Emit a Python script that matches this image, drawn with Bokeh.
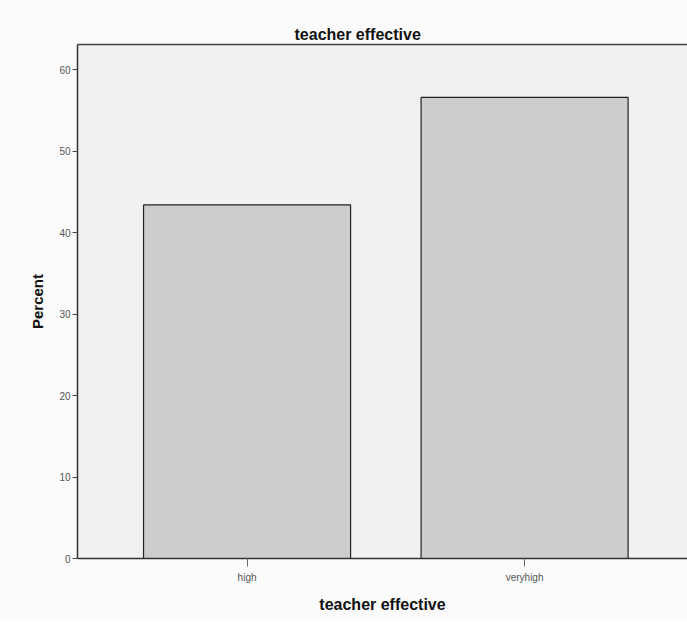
from bokeh.plotting import figure
from bokeh.models import Range1d, FixedTicker, LinearAxis, ColumnDataSource
from bokeh.embed import file_html
from bokeh.resources import INLINE

# data
categories = ["high", "veryhigh"]
percent = [43.4, 56.6]
y_ticks = [0, 10, 20, 30, 40, 50, 60]

positions = [i + 0.5 for i in range(len(categories))]
src = ColumnDataSource(dict(x=positions, top=percent))

p = figure(width=687, height=620, output_backend="svg", toolbar_location=None,
           x_range=Range1d(-0.111, 2.087), y_range=Range1d(0, 63.1),
           min_border_left=77, min_border_right=0, min_border_top=44, min_border_bottom=62,
           title="teacher effective")

p.background_fill_color = "#f1f1f1"
p.border_fill_color = "#fbfbfb"
p.outline_line_color = None
p.grid.visible = False

p.title.align = "left"
p.title.offset = 217
p.title.text_font = "Liberation Sans"
p.title.text_font_size = "16px"
p.title.text_font_style = "bold"
p.title.text_color = "#111111"
p.title.standoff = 4

p.vbar(x="x", top="top", width=0.746, bottom=0, source=src,
       fill_color="#cdcdcd", line_color="#222222", line_width=1.2)

# x axis
xa = p.xaxis[0]
xa.ticker = FixedTicker(ticks=positions)
xa.major_label_overrides = {pos: c for pos, c in zip(positions, categories)}
xa.axis_label = "teacher effective"
xa.axis_label_text_font = "Liberation Sans"
xa.axis_label_text_font_size = "16px"
xa.axis_label_text_font_style = "bold"
xa.axis_label_text_color = "#111111"
xa.axis_label_standoff = 10
xa.major_label_text_font = "Liberation Sans"
xa.major_label_text_font_size = "10px"
xa.major_label_text_color = "#555555"
xa.major_label_standoff = 5
xa.major_tick_out = 8
xa.major_tick_in = 0
xa.major_tick_line_color = "#666666"
xa.minor_tick_line_color = None
xa.axis_line_color = "#333333"
xa.axis_line_width = 1.5

# y axis
ya = p.yaxis[0]
ya.ticker = FixedTicker(ticks=y_ticks)
ya.axis_label = "Percent"
ya.axis_label_text_font = "Liberation Sans"
ya.axis_label_text_font_size = "15px"
ya.axis_label_text_font_style = "bold"
ya.axis_label_text_color = "#111111"
ya.axis_label_standoff = 10
ya.major_label_text_font = "Liberation Sans"
ya.major_label_text_font_size = "10px"
ya.major_label_text_color = "#555555"
ya.major_label_standoff = 2
ya.major_tick_out = 5
ya.major_tick_in = 0
ya.major_tick_line_color = "#444444"
ya.minor_tick_line_color = None
ya.axis_line_color = "#333333"
ya.axis_line_width = 1.5

# top frame line
top = LinearAxis(ticker=FixedTicker(ticks=[]), major_label_text_font_size="0px",
                 major_tick_line_color=None, minor_tick_line_color=None,
                 axis_line_color="#444444", axis_line_width=1.5)
p.add_layout(top, "above")

open("out.html", "w").write(file_html(p, INLINE))
